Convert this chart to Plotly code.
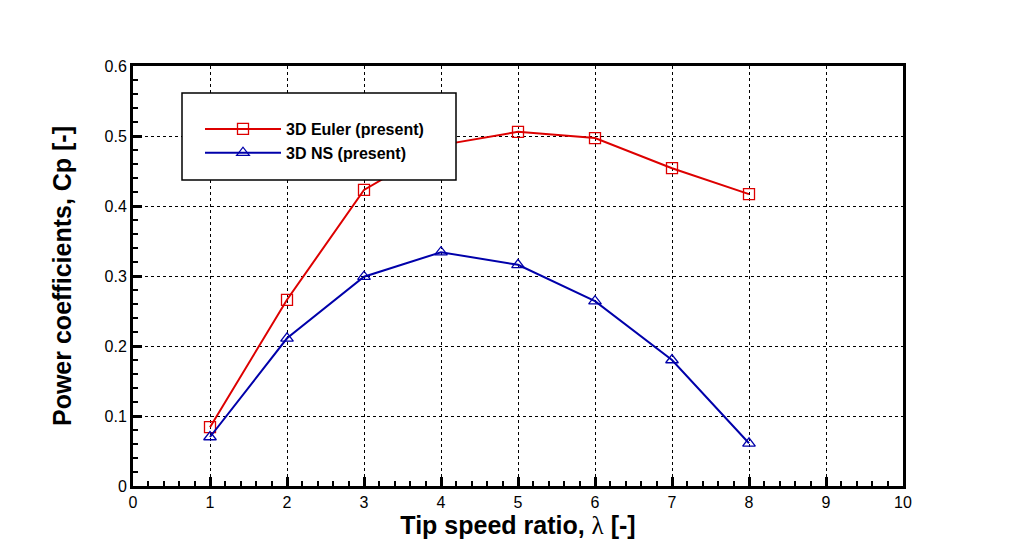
import plotly.graph_objects as go

tsr = [1, 2, 3, 4, 5, 6, 7, 8]
cp_euler = [0.084, 0.266, 0.423, 0.487, 0.506, 0.497, 0.454, 0.417]
cp_ns = [0.070, 0.211, 0.299, 0.334, 0.316, 0.264, 0.180, 0.061]

x_ticks = list(range(0, 11))
y_ticks = [0, 0.1, 0.2, 0.3, 0.4, 0.5, 0.6]
y_labels = ["0", "0.1", "0.2", "0.3", "0.4", "0.5", "0.6"]

RED = "#dd0000"
BLUE = "#0000aa"

fig = go.Figure()
fig.add_trace(go.Scatter(x=tsr, y=cp_euler, mode="lines+markers", name="<b>3D Euler (present)</b>",
                         line=dict(color=RED, width=2),
                         marker=dict(symbol="square-open", size=11, color=RED, line=dict(width=1.3))))
fig.add_trace(go.Scatter(x=tsr, y=cp_ns, mode="lines+markers", name="<b>3D NS (present)</b>",
                         line=dict(color=BLUE, width=2),
                         marker=dict(symbol="triangle-up-open", size=11, color=BLUE, line=dict(width=1.3))))

axis_common = dict(
    showline=True, linecolor="black", linewidth=3, mirror=True,
    showgrid=True, gridcolor="black", gridwidth=1, griddash="dot",
    zeroline=False, ticks="inside", ticklen=9, tickwidth=3, tickcolor="black",
    tickfont=dict(family="Liberation Sans, Arial", size=16, color="black"),
    title_font=dict(family="Liberation Sans, Arial", size=25, color="black"),
)

lam = "<span style='font-family:Liberation Serif;font-weight:normal'>λ</span>"
fig.update_xaxes(range=[0, 10], tickvals=x_ticks, ticktext=[str(v) for v in x_ticks],
                 minor=dict(ticks="inside", ticklen=5, tickwidth=1.5, tickcolor="black",
                            dtick=0.2, showgrid=False),
                 title_text="<b>Tip speed ratio, </b>" + lam + "<b> [-]</b>", title_standoff=6,
                 **axis_common)
fig.update_yaxes(range=[0, 0.6], tickvals=y_ticks, ticktext=y_labels,
                 minor=dict(ticks="inside", ticklen=5, tickwidth=1.5, tickcolor="black",
                            dtick=0.02, showgrid=False),
                 title_text="<b>Power coefficients, Cp [-]</b>", title_standoff=26, **axis_common)

# legend background box
fig.add_shape(type="rect", xref="paper", yref="paper",
              x0=(182 - 133) / 770, x1=(456 - 133) / 770,
              y0=(486 - 180) / 420, y1=(486 - 93) / 420,
              line=dict(color="black", width=1.5), fillcolor="white", layer="above")

fig.update_layout(
    width=1024, height=547,
    margin=dict(l=133, r=121, t=66, b=61),
    plot_bgcolor="white", paper_bgcolor="white",
    showlegend=True,
    legend=dict(x=(200 - 133) / 770, y=(486 - 112) / 420, xanchor="left", yanchor="top",
                bgcolor="rgba(0,0,0,0)", borderwidth=0, itemwidth=76,
                font=dict(family="Liberation Sans, Arial", size=16, color="black"),
                tracegroupgap=0),
)

fig.write_html("out.html")
